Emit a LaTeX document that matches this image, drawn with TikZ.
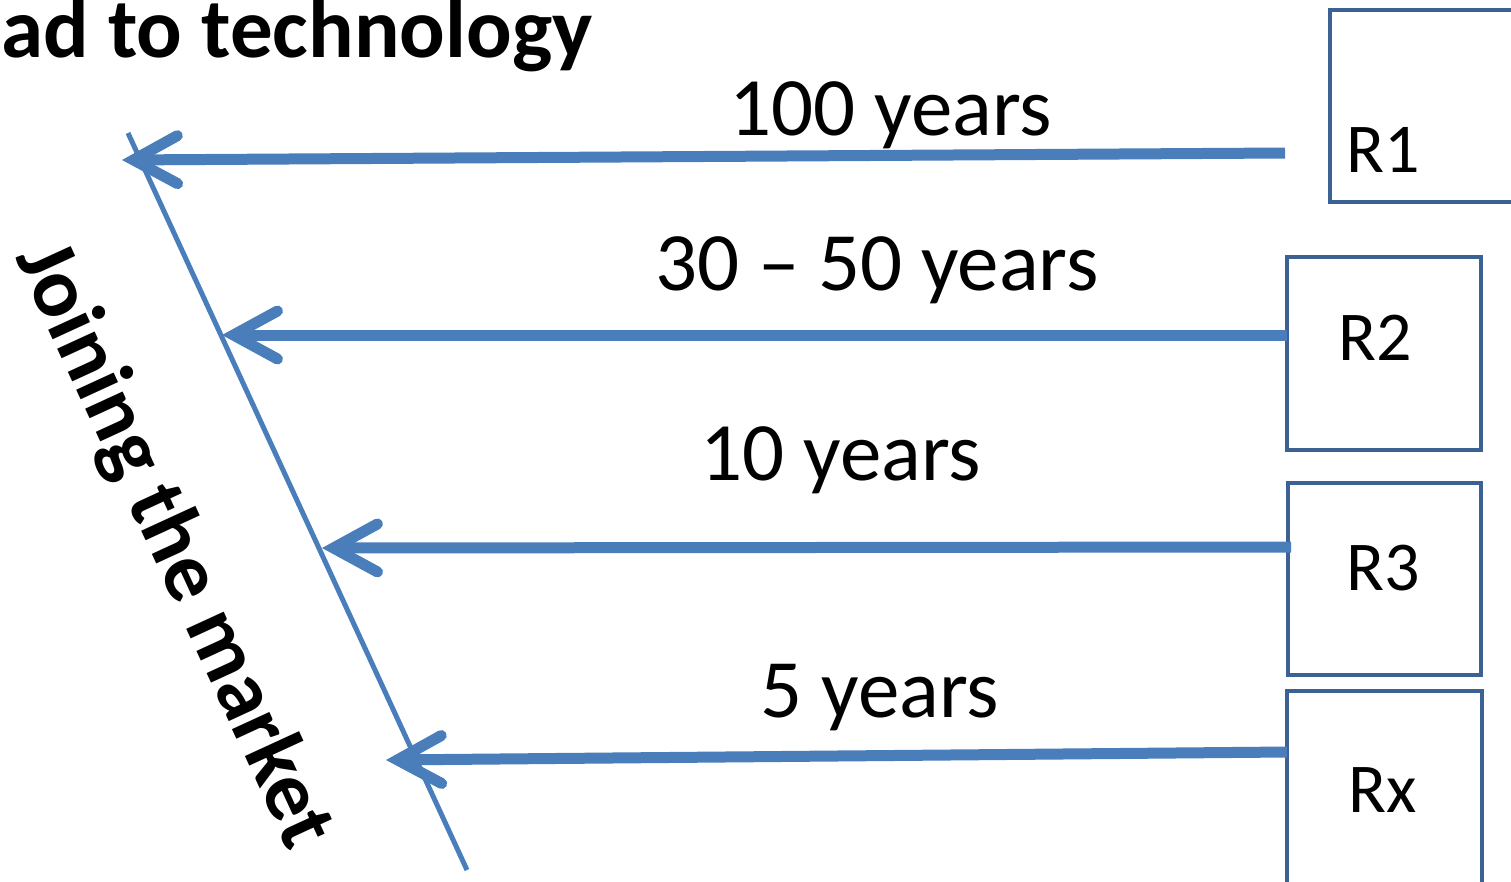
\documentclass[tikz,border=0pt]{standalone}
\usepackage{fontspec}
\setmainfont{Carlito}
\usetikzlibrary{arrows.meta}
\definecolor{arrowblue}{HTML}{4A7EBB}
\definecolor{boxblue}{HTML}{3C6294}
\tikzset{
  arr/.style={draw=arrowblue, line width=11pt,
    -{Straight Barb[length=44pt, width=48pt, line cap=round, line join=miter]}},
  diagline/.style={draw=arrowblue, line width=5pt},
  rbox/.style={draw=boxblue, line width=4pt, rectangle, inner sep=0pt},
  lbl/.style={inner sep=0pt, anchor=base, font=\fontsize{83}{100}\selectfont},
  rlbl/.style={inner sep=0pt, anchor=base west, font=\fontsize{70}{84}\selectfont},
  ttl/.style={inner sep=0pt, font=\fontsize{85}{100}\selectfont\bfseries}
}
\begin{document}
\begin{tikzpicture}[x=1pt,y=-1pt]
\useasboundingbox (0,0) rectangle (1511,881);
% title
\node[ttl, anchor=base west] (title) at (1,57) {ad to technology};
% diagonal line
\coordinate (dtop) at (128,133);
\coordinate (dbot) at (467,870);
\draw[diagline] (dtop) -- (dbot);
\node[ttl, rotate=-65.3, anchor=center] (join) at (173,546) {Joining the market};
% boxes
\draw[rbox] (1330,10) rectangle (1530,202);
\draw[rbox] (1287,257) rectangle (1481,450);
\draw[rbox] (1288,483) rectangle (1481,675);
\draw[rbox] (1287,691) rectangle (1482,900);
\node[rlbl] (r1) at (1346,172) {R1};
\node[rlbl] (r2) at (1338,360) {R2};
\node[rlbl] (r3) at (1346,590) {R3};
\node[rlbl] (rx) at (1348,812) {Rx};
% arrows
\coordinate (s1) at (1285,153);
\coordinate (t1) at (122,160);
\coordinate (s2) at (1287,335);
\coordinate (t2) at (222,335);
\coordinate (s3) at (1291,547);
\coordinate (t3) at (322,548);
\coordinate (s4) at (1287,752);
\coordinate (t4) at (386,760);
\draw[arr] (s1) -- (t1);
\draw[arr] (s2) -- (t2);
\draw[arr] (s3) -- (t3);
\draw[arr] (s4) -- (t4);
% labels
\node[lbl] (l1) at (891,135) {100 years};
\node[lbl] (l2) at (877,290) {30 -- 50 years};
\node[lbl] (l3) at (841,480) {10 years};
\node[lbl] (l4) at (880,717) {5 years};
\end{tikzpicture}
\end{document}
